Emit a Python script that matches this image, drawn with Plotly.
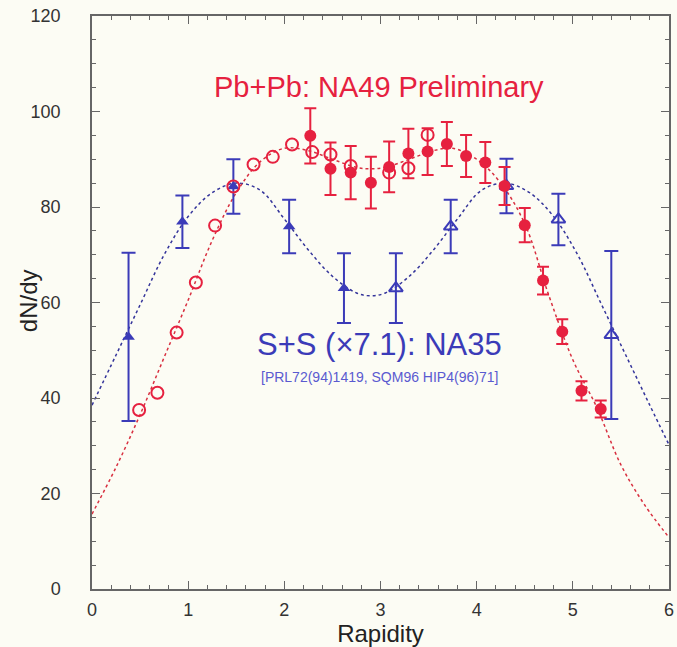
import plotly.graph_objects as go

# ---- data ----
# NA49 Pb+Pb measured (filled circles)
pb_x = [2.27, 2.48, 2.69, 2.90, 3.09, 3.29, 3.49, 3.69, 3.89, 4.09, 4.29, 4.50, 4.69, 4.89, 5.09, 5.29]
pb_y = [94.9, 88.0, 87.2, 85.1, 88.4, 91.2, 91.6, 93.2, 90.7, 89.3, 84.4, 76.2, 64.6, 53.9, 41.5, 37.7]
pb_err = [5.8, 5.5, 5.6, 5.4, 5.3, 5.2, 4.9, 4.6, 4.4, 4.3, 4.0, 3.6, 2.9, 2.6, 2.0, 1.8]

# NA49 Pb+Pb reflected (open circles)
pbr_x = [0.49, 0.68, 0.88, 1.08, 1.28, 1.47, 1.68, 1.88, 2.08, 2.29, 2.48, 2.69, 3.09, 3.29, 3.49]
pbr_y = [37.5, 41.1, 53.7, 64.2, 76.1, 84.3, 88.9, 90.5, 93.1, 91.5, 91.0, 88.6, 87.2, 88.1, 95.1]

# NA35 S+S x7.1 measured (filled triangles)
ss_x = [0.38, 0.94, 1.47, 2.05, 2.62]
ss_y = [52.8, 76.9, 84.3, 75.9, 63.0]
ss_err = [17.6, 5.5, 5.7, 5.6, 7.3]

# NA35 S+S x7.1 reflected (open triangles)
ssr_x = [3.16, 3.73, 4.31, 4.85, 5.40]
ssr_y = [63.0, 75.9, 84.4, 77.4, 53.2]
ssr_err = [7.3, 5.6, 5.7, 5.4, 17.6]

# dotted fit curves
fit_pb_x = [0.0, 0.25, 0.5, 0.75, 1.0, 1.25, 1.5, 1.75, 2.0, 2.25, 2.5, 2.75, 2.9,
            3.05, 3.3, 3.55, 3.75, 4.0, 4.25, 4.5, 4.75, 5.0, 5.25, 5.5, 5.75, 6.0]
fit_pb_y = [15.7, 25.5, 36.5, 48.5, 60.5, 73.0, 83.0, 89.5, 92.3, 91.8, 90.0, 88.3, 88.0,
            88.3, 90.0, 91.8, 92.3, 90.0, 85.0, 76.5, 61.5, 48.0, 38.0, 26.0, 17.5, 10.8]

fit_ss_x = [0.0, 0.25, 0.5, 0.75, 1.0, 1.25, 1.5, 1.75, 2.0, 2.25, 2.5, 2.75, 2.9,
            3.05, 3.3, 3.55, 3.8, 4.05, 4.3, 4.55, 4.8, 5.05, 5.3, 5.55, 5.8, 6.0]
fit_ss_y = [38.5, 49.0, 59.5, 70.0, 78.0, 83.0, 85.0, 83.5, 77.5, 71.0, 65.5, 62.0, 61.4,
            62.0, 65.5, 71.0, 77.5, 83.5, 85.0, 83.0, 78.0, 70.0, 59.5, 49.0, 38.5, 30.2]

x_ticks = [0, 1, 2, 3, 4, 5, 6]
y_ticks = [0, 20, 40, 60, 80, 100, 120]

RED = "#e6213f"
BLUE = "#3b3bb8"
BG = "#fcfcf4"
FONT = "Liberation Sans, Arial, Helvetica, sans-serif"

fig = go.Figure()

fig.add_trace(go.Scatter(x=fit_ss_x, y=fit_ss_y, mode="lines",
                         line=dict(color="#34349a", width=1.5, dash="dot", shape="spline", smoothing=1.0),
                         hoverinfo="skip", showlegend=False))
fig.add_trace(go.Scatter(x=fit_pb_x, y=fit_pb_y, mode="lines",
                         line=dict(color="#d83040", width=1.5, dash="dot", shape="spline", smoothing=1.0),
                         hoverinfo="skip", showlegend=False))

fig.add_trace(go.Scatter(x=ss_x, y=ss_y, mode="markers",
                         marker=dict(symbol="triangle-up", size=11, color=BLUE),
                         error_y=dict(type="data", array=ss_err, color=BLUE, thickness=2, width=7),
                         showlegend=False))
fig.add_trace(go.Scatter(x=ssr_x, y=ssr_y, mode="markers",
                         marker=dict(symbol="triangle-up-open", size=12, color=BLUE, line=dict(width=2, color=BLUE)),
                         error_y=dict(type="data", array=ssr_err, color=BLUE, thickness=2, width=7),
                         showlegend=False))

fig.add_trace(go.Scatter(x=pbr_x, y=pbr_y, mode="markers",
                         marker=dict(symbol="circle-open", size=12, color=RED, line=dict(width=2, color=RED)),
                         showlegend=False))
fig.add_trace(go.Scatter(x=pb_x, y=pb_y, mode="markers",
                         marker=dict(symbol="circle", size=12, color=RED),
                         error_y=dict(type="data", array=pb_err, color=RED, thickness=2, width=6),
                         showlegend=False))

fig.add_annotation(x=0.498, y=0.876, xref="paper", yref="paper", text="Pb+Pb: NA49 Preliminary",
                   xanchor="center", yanchor="middle",
                   showarrow=False, font=dict(family=FONT, size=29, color=RED))
fig.add_annotation(x=0.498, y=0.426, xref="paper", yref="paper", text="S+S (\u00d77.1): NA35",
                   xanchor="center", yanchor="middle",
                   showarrow=False, font=dict(family=FONT, size=31, color=BLUE))
fig.add_annotation(x=0.498, y=0.370, xref="paper", yref="paper", text="[PRL72(94)1419, SQM96 HIP4(96)71]",
                   xanchor="center", yanchor="middle",
                   showarrow=False, font=dict(family=FONT, size=14, color="#5a5ad0"))
# y-axis title
fig.add_annotation(x=-0.111, y=0.504, xref="paper", yref="paper", text="dN/dy",
                   xanchor="center", yanchor="middle", textangle=-90,
                   showarrow=False, font=dict(family=FONT, size=24, color="#222222"))

axis_common = dict(showline=True, linecolor="#666666", linewidth=1.5, mirror="ticks",
                   ticks="inside", ticklen=8, tickwidth=1.2, tickcolor="#666666",
                   showgrid=False, zeroline=False, automargin=False,
                   tickfont=dict(family=FONT, size=18, color="#333333"))

fig.update_xaxes(range=[0, 6], tickvals=x_ticks, ticktext=[str(v) for v in x_ticks],
                 minor=dict(dtick=0.2, ticks="inside", ticklen=4, tickcolor="#666666", showgrid=False),
                 title=dict(text="Rapidity", font=dict(family=FONT, size=24, color="#222222"), standoff=0),
                 ticklabelstandoff=4, **axis_common)
fig.update_yaxes(range=[0, 120], tickvals=y_ticks, ticktext=[str(v) for v in y_ticks],
                 minor=dict(dtick=5, ticks="inside", ticklen=4, tickcolor="#666666", showgrid=False),
                 ticklabelstandoff=26, **axis_common)

fig.update_layout(width=677, height=647, margin=dict(l=92, r=8, t=16, b=58),
                  paper_bgcolor=BG, plot_bgcolor=BG, showlegend=False)

fig.write_html("out.html")
